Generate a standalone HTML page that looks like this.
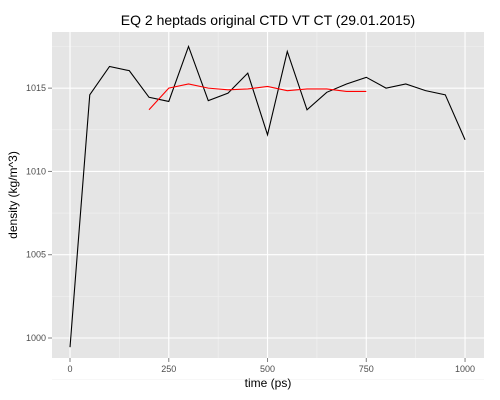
<!DOCTYPE html>
<html><head><meta charset="utf-8"><style>
body{margin:0;background:#fff;}
svg{display:block;font-family:"Liberation Sans",sans-serif;}
</style></head><body>
<svg id="chart" width="500" height="400"></svg>
<script>
const xs = [0,50,100,150,200,250,300,350,400,450,500,550,600,650,700,750,800,850,900,950,1000];
const blackVals = [999.45,1014.6,1016.3,1016.05,1014.45,1014.2,1017.5,1014.25,1014.7,1015.9,1012.2,1017.2,1013.7,1014.75,1015.25,1015.65,1015.0,1015.25,1014.85,1014.6,1011.9];
const redXs = [200,250,300,350,400,450,500,550,600,650,700,750];
const redVals = [1013.7,1015.0,1015.25,1015.0,1014.9,1014.95,1015.1,1014.85,1014.95,1014.95,1014.8,1014.8];
const xTicks = [0,250,500,750,1000];
const yTicks = [1000,1005,1010,1015];
const yTickLabels = ["1000","1005","1010","1015"];

const NS="http://www.w3.org/2000/svg";
const svg=document.getElementById('chart');
const L=52,R=484,T=32,B=358;
const xMin=-45.6,xMax=1048,yMin=998.8,yMax=1018.37;
const sx=v=>L+(v-xMin)/(xMax-xMin)*(R-L);
const sy=v=>B-(v-yMin)/(yMax-yMin)*(B-T);
function mk(tag,attrs,parent){const e=document.createElementNS(NS,tag);for(const k in attrs)e.setAttribute(k,attrs[k]);(parent||svg).appendChild(e);return e;}

const panel=mk('rect',{x:L,y:T,width:R-L,height:B-T,fill:'#e5e5e5'});



for(let i=0;i<xTicks.length-1;i++){const v=(xTicks[i]+xTicks[i+1])/2;
 const g=mk('line',{x1:sx(v),x2:sx(v),y1:T,y2:B,stroke:'#f2f2f2','stroke-width':0.6});
 }
for(let i=0;i<yTicks.length-1;i++){const v=(yTicks[i]+yTicks[i+1])/2;
 const g=mk('line',{x1:L,x2:R,y1:sy(v),y2:sy(v),stroke:'#f2f2f2','stroke-width':0.6});
 }
[yTicks[0]-2.5,yTicks[yTicks.length-1]+2.5].forEach(v=>{
 const g=mk('line',{x1:L,x2:R,y1:sy(v),y2:sy(v),stroke:'#f2f2f2','stroke-width':0.6});
 });
xTicks.forEach(v=>{
 const g=mk('line',{x1:sx(v),x2:sx(v),y1:T,y2:B,stroke:'#fff','stroke-width':1.1});
 
 const t=mk('line',{x1:sx(v),x2:sx(v),y1:B,y2:B+4,stroke:'#7f7f7f'});
 
 const l=mk('text',{x:sx(v),y:B+14,'text-anchor':'middle','font-size':9,fill:'#4d4d4d'});l.textContent=v;
 
});
yTicks.forEach((v,i)=>{
 const g=mk('line',{x1:L,x2:R,y1:sy(v),y2:sy(v),stroke:'#fff','stroke-width':1.1});
 
 const t=mk('line',{x1:L-4,x2:L,y1:sy(v),y2:sy(v),stroke:'#7f7f7f'});
 
 const l=mk('text',{x:L-6,y:sy(v)+3,'text-anchor':'end','font-size':9,fill:'#4d4d4d'});l.textContent=yTickLabels[i];
 
});

const bl=mk('polyline',{points:xs.map((x,i)=>sx(x)+','+sy(blackVals[i])).join(' '),fill:'none',stroke:'#000','stroke-width':1.1});

const rl=mk('polyline',{points:redXs.map((x,i)=>sx(x)+','+sy(redVals[i])).join(' '),fill:'none',stroke:'#ff0000','stroke-width':1.1});


const title=mk('text',{x:(L+R)/2,y:25,'text-anchor':'middle','font-size':14,fill:'#000'});
title.textContent='EQ 2 heptads original CTD VT CT (29.01.2015)';

const xt=mk('text',{x:(L+R)/2,y:387,'text-anchor':'middle','font-size':12,fill:'#000'});
xt.textContent='time (ps)';

const yt=mk('text',{x:0,y:0,'text-anchor':'middle','font-size':12,fill:'#000',transform:`translate(17,${(T+B)/2}) rotate(-90)`});
yt.textContent='density (kg/m^3)';

</script>
</body></html>
